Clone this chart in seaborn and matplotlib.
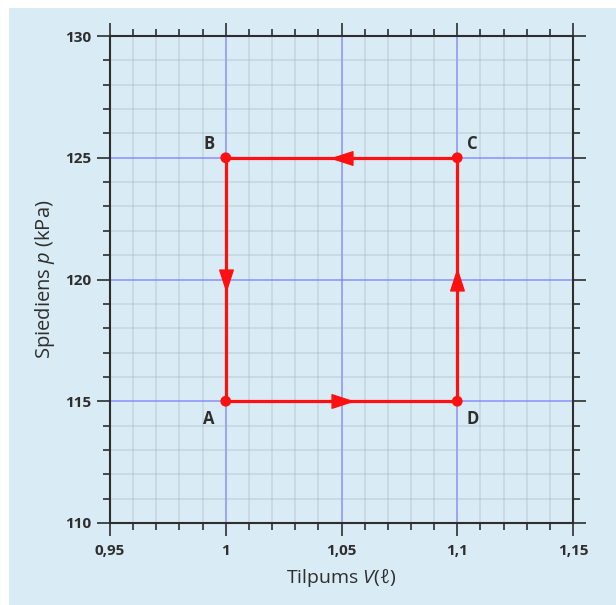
import numpy as np
import pandas as pd
import matplotlib
matplotlib.use("Agg")
import matplotlib.pyplot as plt
import seaborn as sns
from matplotlib.path import Path
from matplotlib.markers import MarkerStyle
from matplotlib.transforms import Affine2D
from matplotlib.patches import Rectangle
from matplotlib.ticker import MultipleLocator

# ---- data ----
point_names = ["A", "D", "C", "B"]
volume = [1.0, 1.1, 1.1, 1.0]          # litres
pressure = [115, 115, 125, 125]        # kPa
x_ticks = [0.95, 1.0, 1.05, 1.1, 1.15]
x_tick_labels = ["0,95", "1", "1,05", "1,1", "1,15"]
y_ticks = [110, 115, 120, 125, 130]
y_tick_labels = ["110", "115", "120", "125", "130"]

BG = "#d9ebf4"
RED = "#ff1010"
DARK = "#2e2e2e"

sns.set_style("ticks")
plt.rcParams["font.family"] = ["Open Sans", "DejaVu Sans"]
plt.rcParams["mathtext.fontset"] = "custom"
plt.rcParams["mathtext.it"] = "Open Sans:italic"
plt.rcParams["mathtext.rm"] = "Open Sans"

fig = plt.figure(figsize=(6.16, 6.05), dpi=100, facecolor="white")
fig.patches.append(Rectangle((9 / 616, 0), 1, 1 - 8 / 605, transform=fig.transFigure,
                             facecolor=BG, edgecolor="none", zorder=-10))
ax = fig.add_axes([110 / 616, 1 - 523 / 605, (573 - 110) / 616, (523 - 36) / 605])
ax.set_facecolor(BG)

ax.set_xlim(x_ticks[0], x_ticks[-1])
ax.set_ylim(y_ticks[0], y_ticks[-1])
ax.set_xticks(x_ticks)
ax.set_xticklabels(x_tick_labels)
ax.set_yticks(y_ticks)
ax.set_yticklabels(y_tick_labels)
ax.xaxis.set_minor_locator(MultipleLocator(0.01))
ax.yaxis.set_minor_locator(MultipleLocator(1))

ax.grid(which="minor", color="#a4adb4", linewidth=1.1, alpha=0.35, zorder=0)
ax.grid(which="major", color="#7f86ff", linewidth=1.1, alpha=0.9, zorder=0)
ax.set_axisbelow(True)

for s in ax.spines.values():
    s.set_visible(True)
    s.set_color(DARK)
    s.set_linewidth(1.5)
ax.tick_params(which="both", direction="out", top=True, right=True, color=DARK,
               labelcolor=DARK, labelsize=11)
ax.tick_params(which="major", length=9.4, width=1.2, pad=4)
ax.tick_params(which="minor", length=5, width=1.2)
for lab in ax.get_xticklabels() + ax.get_yticklabels():
    lab.set_fontweight("bold")
ax.tick_params(axis="x", which="major", pad=6)
ax.tick_params(labeltop=False, labelright=False)

# ---- cycle path A->D->C->B->A ----
df = pd.DataFrame({"V": volume + volume[:1], "p": pressure + pressure[:1],
                   "order": range(len(volume) + 1)})
sns.lineplot(data=df, x="V", y="p", sort=False, color=RED, linewidth=2.3,
             ax=ax, zorder=3, estimator=None)
pts = pd.DataFrame({"V": volume, "p": pressure, "name": point_names})
sns.scatterplot(data=pts, x="V", y="p", color=RED, s=60, edgecolor="none", ax=ax, zorder=4)

# arrowheads at the middle of each segment
tri = Path([(-1, -0.65), (1, 0), (-1, 0.65), (-1, -0.65)],
           [Path.MOVETO, Path.LINETO, Path.LINETO, Path.CLOSEPOLY])
n = len(volume)
for i in range(n):
    x0, y0 = volume[i], pressure[i]
    x1, y1 = volume[(i + 1) % n], pressure[(i + 1) % n]
    mx, my = (x0 + x1) / 2, (y0 + y1) / 2
    ang = np.degrees(np.arctan2(np.sign(y1 - y0), np.sign(x1 - x0)))
    m = MarkerStyle(tri, transform=Affine2D().rotate_deg(ang))
    ax.plot([mx], [my], marker=m, markersize=15, color=RED, linestyle="none", zorder=5)

# point labels
offsets = {"A": (-12, -13), "D": (11, -13), "C": (11, 10), "B": (-12, 10)}
for name, v, p in zip(point_names, volume, pressure):
    dx, dy = offsets[name]
    ax.annotate(name, (v, p), xytext=(dx, dy), textcoords="offset points",
                ha="center", va="center", fontsize=12, fontweight="bold",
                color=DARK, zorder=6)

ax.set_xlabel(r"Tilpums $V$(ℓ)", fontsize=14, color=DARK, labelpad=6)
ax.set_ylabel(r"Spiediens $p$ (kPa)", fontsize=14.5, color=DARK, labelpad=6)

fig.savefig("out.png", dpi=100, facecolor=fig.get_facecolor())
